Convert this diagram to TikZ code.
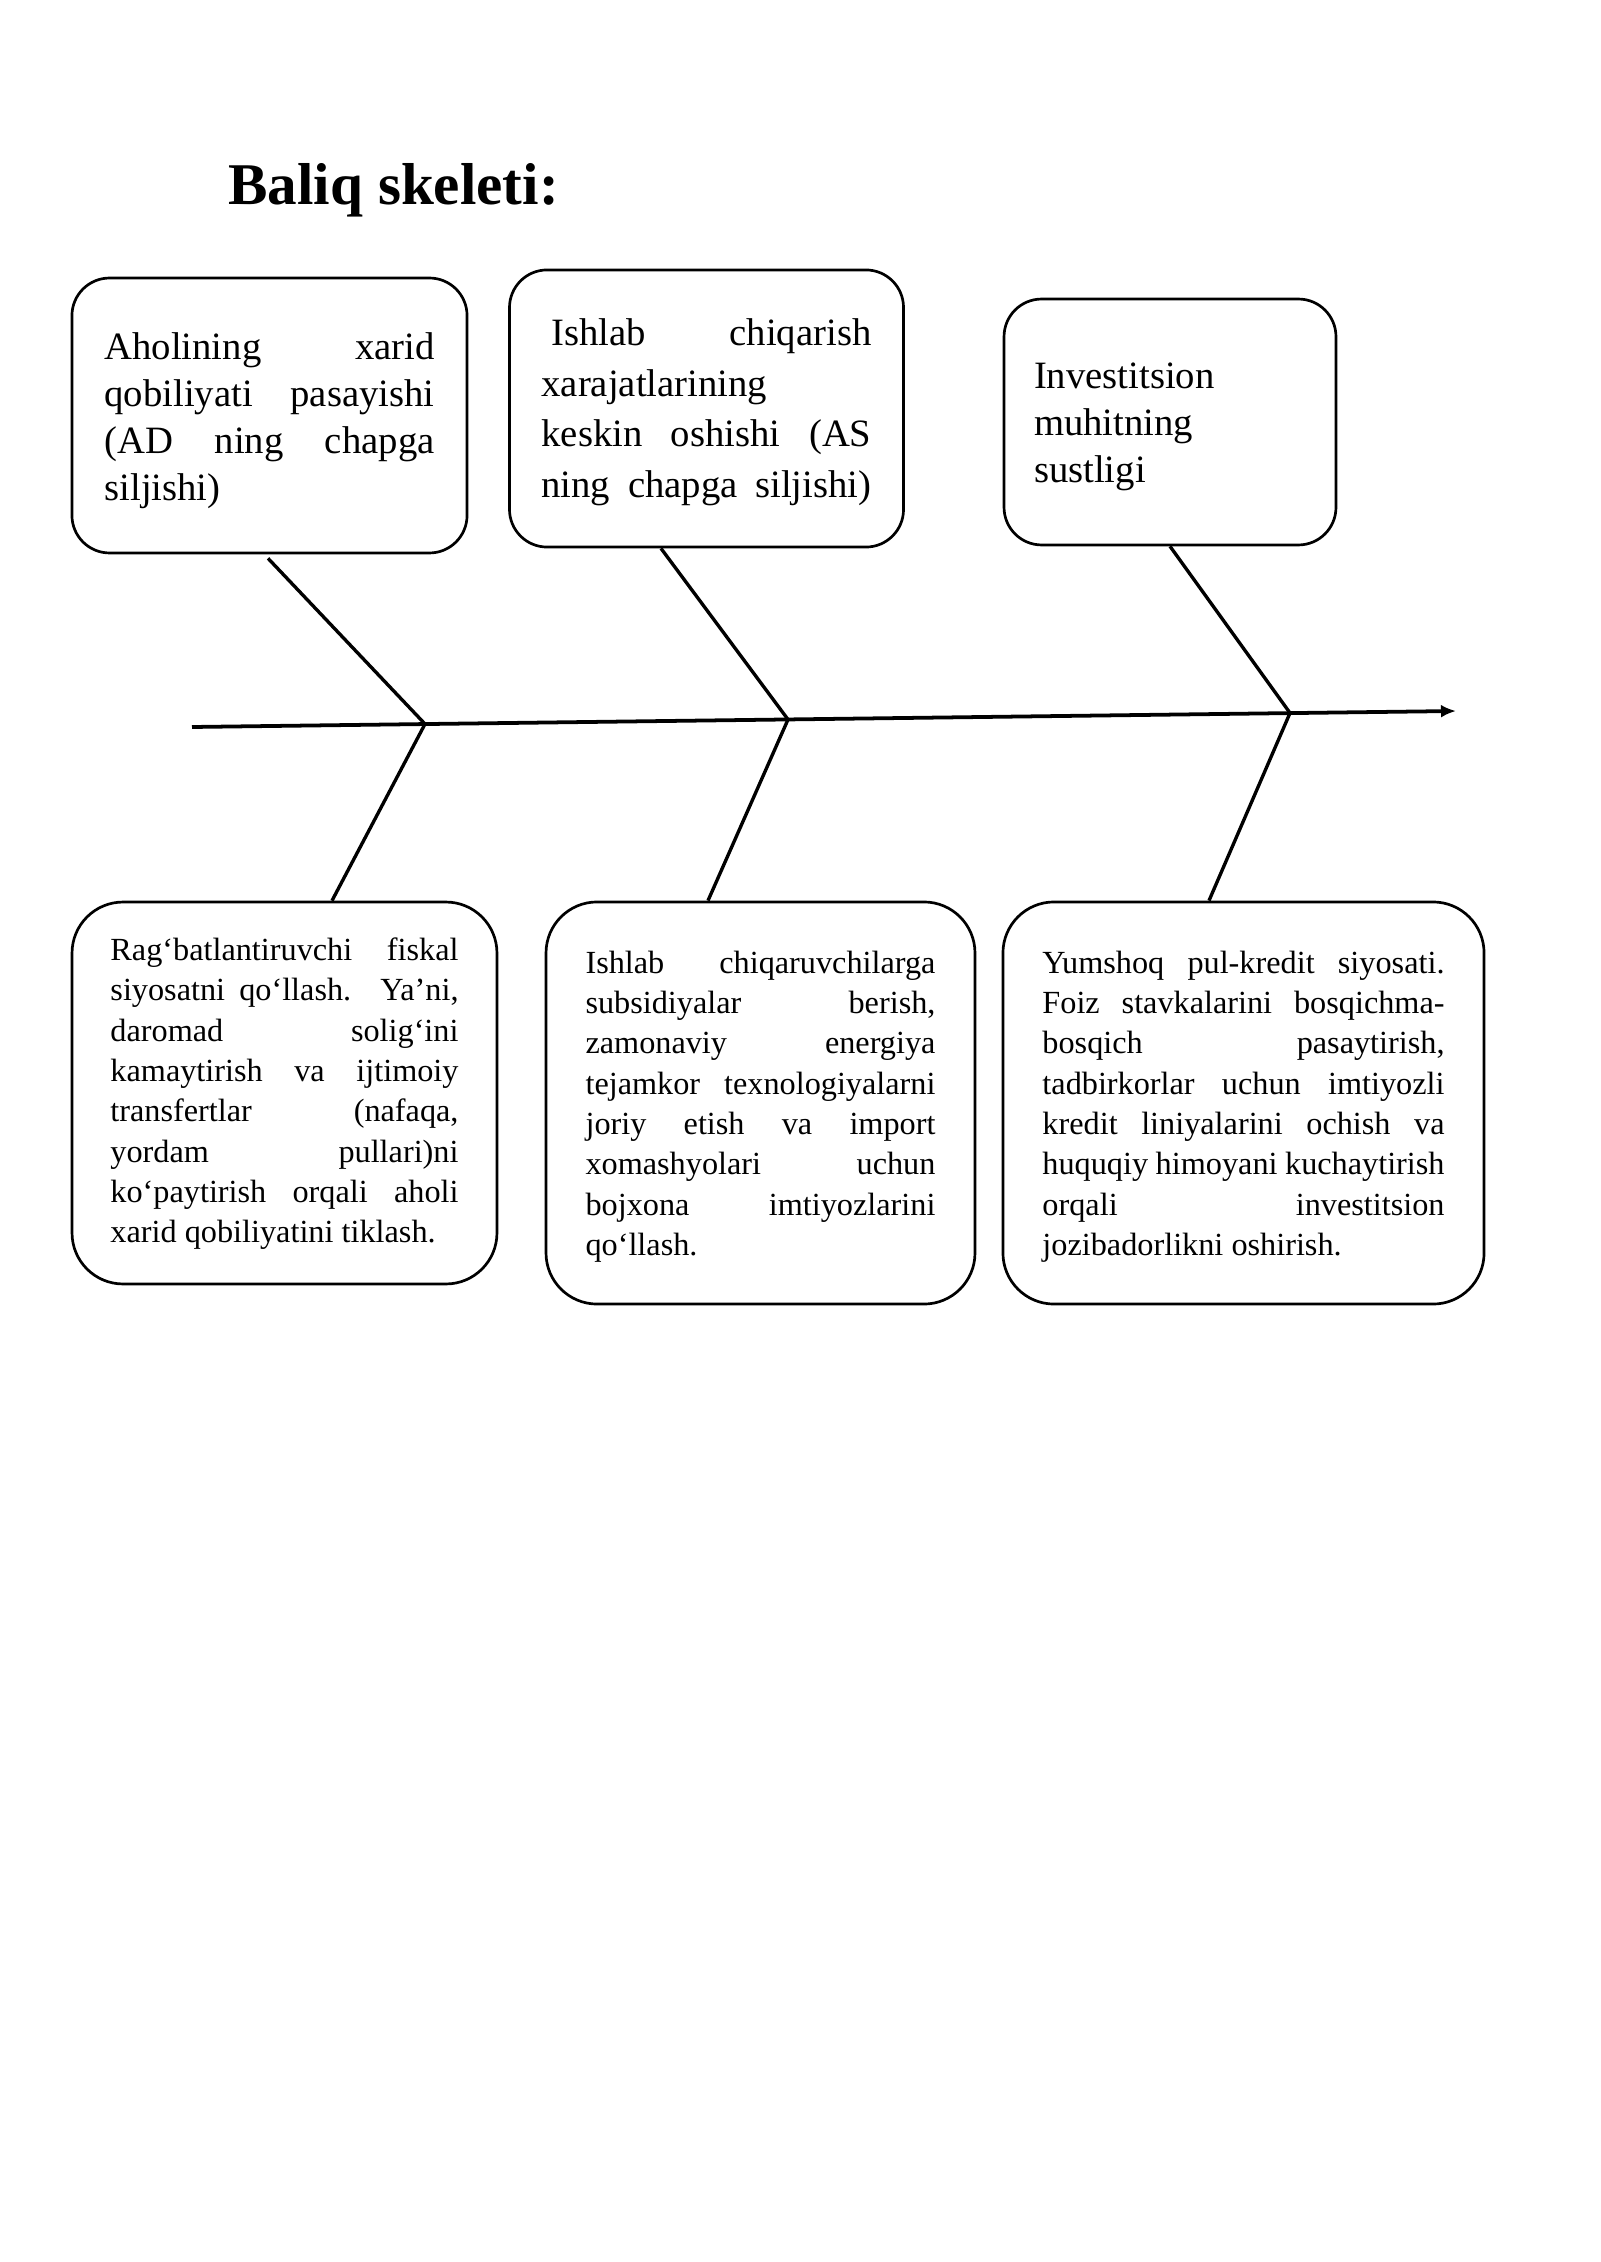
\documentclass[tikz,border=0pt]{standalone}
\usepackage{fontspec}
\setmainfont{Liberation Serif}
\usetikzlibrary{arrows.meta, calc, positioning}

% bir qatorni to'liq kenglikka cho'zish
\newlength{\jwidth}
\newcommand{\jline}[1]{\makebox[\jwidth][s]{#1}}
\newcommand{\lline}[1]{\makebox[\jwidth][l]{#1}}
% birinchi qatorni biroz pastga tushirish
\newcommand{\lift}[1]{\rule{0pt}{\dimexpr\fontcharht\font`h+#1\relax}}

\begin{document}
\begin{tikzpicture}[x=0.37205bp, y=-0.37205bp,
            every node/.style={inner sep=0pt},
            jw/.code={\setlength{\jwidth}{#1}},
            causebox/.style={draw, line width=1bp, rounded corners=14bp, align=left,
                font=\fontsize{14.4bp}{17.6bp}\selectfont},
            fixbox/.style={draw, line width=1bp, rounded corners=19bp, align=left,
                font=\fontsize{12bp}{15bp}\selectfont},
            bone/.style={line width=1.25bp}]
            \useasboundingbox (0,0) rectangle (1600,2262);

            % sarlavha
            \node[anchor=base west, font=\fontsize{22bp}{26bp}\selectfont\bfseries] (title) at (228,205) {Baliq skeleti:};

            % sabablar
            \node[causebox, jw=122.8bp, minimum width=147bp, minimum height=102.3bp] (cause1) at (269.5,415.5) {
                \jline{\lift{4.4bp}Aholining xarid}\\
                \jline{qobiliyati pasayishi}\\
                \jline{(AD ning chapga}\\
                \lline{siljishi)}
            };

            \node[causebox, jw=122.8bp, minimum width=146.6bp, minimum height=103.1bp,
                font=\fontsize{14.4bp}{18.8bp}\selectfont] (cause2) at (706.5,408.5) {
                \jline{\lift{3.2bp}\kern3.7bp Ishlab chiqarish}\\
                \lline{xarajatlarining}\\
                \jline{keskin oshishi (AS}\\
                \jline{ning chapga siljishi)}
            };

            \node[causebox, jw=101.2bp, minimum width=123.5bp, minimum height=91.5bp] (cause3) at (1170,422) {
                \lline{\lift{3.8bp}Investitsion}\\
                \lline{muhitning}\\
                \lline{sustligi}
            };

            % yechimlar
            \node[fixbox, jw=129.5bp, minimum width=158.1bp, minimum height=142.1bp] (fix1) at (284.5,1093) {
                \jline{\lift{1.2bp}Rag‘batlantiruvchi fiskal}\\
                \jline{siyosatni qo‘llash. Ya’ni,}\\
                \jline{daromad solig‘ini}\\
                \jline{kamaytirish va ijtimoiy}\\
                \jline{transfertlar (nafaqa,}\\
                \jline{yordam pullari)ni}\\
                \jline{ko‘paytirish orqali aholi}\\
                \lline{xarid qobiliyatini tiklash.}
            };

            \node[fixbox, jw=130.2bp, minimum width=159.6bp, minimum height=149.6bp] (fix2) at (760.5,1103) {
                \jline{\lift{3.2bp}Ishlab chiqaruvchilarga}\\
                \jline{subsidiyalar berish,}\\
                \jline{zamonaviy energiya}\\
                \jline{tejamkor texnologiyalarni}\\
                \jline{joriy etish va import}\\
                \jline{xomashyolari uchun}\\
                \jline{bojxona imtiyozlarini}\\
                \lline{qo‘llash.}
            };

            \node[fixbox, jw=149.6bp, minimum width=179bp, minimum height=149.6bp] (fix3) at (1243.5,1103) {
                \jline{\lift{3.2bp}Yumshoq pul-kredit siyosati.}\\
                \jline{Foiz stavkalarini bosqichma-}\\
                \jline{bosqich pasaytirish,}\\
                \jline{tadbirkorlar uchun imtiyozli}\\
                \jline{kredit liniyalarini ochish va}\\
                \jline{huquqiy himoyani kuchaytirish}\\
                \jline{orqali investitsion}\\
                \lline{jozibadorlikni oshirish.}
            };

            % asosiy o'q
            \coordinate (tail) at (192,727);
            \coordinate (head) at (1456,711);
            \coordinate (j1) at (425,724);
            \coordinate (j2) at (788,719.5);
            \coordinate (j3) at (1290,713);
            \draw[-{Latex[length=5.6bp, width=4.8bp]}, line width=1.4bp] (tail) -- (head);

            % suyaklar
            \draw[bone] ($(cause1.south)+(-1.5,4)$) -- (j1);
            \draw[bone] ($(cause2.south)+(-45.5,0)$) -- (j2);
            \draw[bone] (cause3.south) -- (j3);
            \draw[bone] (j1) -- ($(fix1.north)+(47.5,0)$);
            \draw[bone] (j2) -- ($(fix2.north)+(-52.5,0)$);
            \draw[bone] (j3) -- ($(fix3.north)+(-34.5,0)$);
        \end{tikzpicture}
\end{document}
